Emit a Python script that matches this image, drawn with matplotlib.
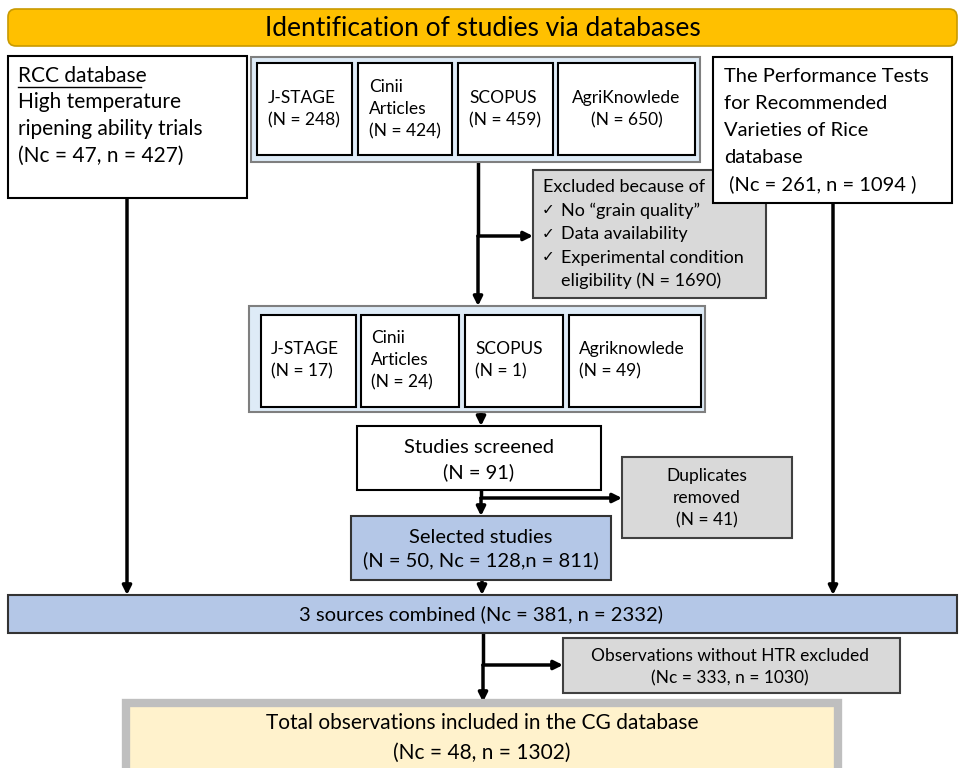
import matplotlib.pyplot as plt
from matplotlib.patches import Rectangle, FancyBboxPatch

plt.rcParams['font.family'] = ['Lato', 'DejaVu Sans']

# data
title = "Identification of studies via databases"
db_names_1 = ["J-STAGE", "Cinii\nArticles", "SCOPUS", "AgriKnowlede"]
db_counts_1 = [248, 424, 459, 650]
db_names_2 = ["J-STAGE", "Cinii\nArticles", "SCOPUS", "Agriknowlede"]
db_counts_2 = [17, 24, 1, 49]
rcc_nc, rcc_n = 47, 427
perf_nc, perf_n = 261, 1094
excluded_reasons = ["No \u201cgrain quality\u201d", "Data availability", "Experimental condition"]
excluded_n = 1690
screened_n = 91
duplicates_n = 41
selected = (50, 128, 811)
combined = (381, 2332)
no_htr = (333, 1030)
total = (48, 1302)

fig = plt.figure(figsize=(9.6, 7.68), dpi=100)
ax = fig.add_axes([0, 0, 1, 1])
ax.set_xlim(0, 960)
ax.set_ylim(768, 0)
ax.axis('off')

def box(x0, y0, x1, y1, fc='white', ec='black', lw=1.5, z=2):
    ax.add_patch(Rectangle((x0, y0), x1 - x0, y1 - y0, facecolor=fc, edgecolor=ec, lw=lw, zorder=z))

def arrow(x0, y0, x1, y1):
    ax.annotate('', xy=(x1, y1), xytext=(x0, y0),
                arrowprops=dict(arrowstyle='-|>', lw=2.5, color='black', mutation_scale=13,
                                shrinkA=0, shrinkB=0), zorder=1)

def line(x0, y0, x1, y1):
    ax.plot([x0, x1], [y0, y1], color='black', lw=2.5, zorder=1, solid_capstyle='butt')

# title bar
ax.add_patch(FancyBboxPatch((8, 9), 949, 37, boxstyle='round,pad=0,rounding_size=8',
                            facecolor='#FFC000', edgecolor='#C99A00', lw=1.2, zorder=2))
ax.text(483, 28, title, ha='center', va='center', fontsize=19, zorder=3)

# RCC box
box(8, 56, 247, 198)
rcc_lines = ["RCC database", "High temperature", "ripening ability trials",
             f"(Nc = {rcc_nc}, n = {rcc_n})"]
for i, t in enumerate(rcc_lines):
    ax.text(18, 76 + i * 26.5, t, ha='left', va='center', fontsize=15, zorder=3)
ax.plot([18, 141], [87, 87], color='black', lw=1, zorder=3)

# first database group
box(251, 57, 700, 162, fc='#DEEBF7', ec='#7F7F7F', lw=1.5)
xs1 = [(257, 352), (358, 452), (458, 553), (558, 695)]
for (x0, x1), name, n in zip(xs1, db_names_1, db_counts_1):
    box(x0, 63, x1, 155)
    if name == "AgriKnowlede":
        ax.text((x0 + x1) / 2, 109, f"{name}\n(N = {n})", ha='center', va='center',
                fontsize=12.5, linespacing=1.45, zorder=3)
    else:
        ax.text(x0 + 11, 109, f"{name}\n(N = {n})", ha='left', va='center',
                fontsize=12.5, linespacing=1.45, zorder=3)

# performance tests box
box(713, 57, 952, 203, z=4)
perf_lines = ["The Performance Tests", "for Recommended", "Varieties of Rice", "database",
              f" (Nc = {perf_nc}, n = {perf_n} )"]
for i, t in enumerate(perf_lines):
    ax.text(724, 77 + i * 26.8, t, ha='left', va='center', fontsize=14.5, zorder=5)

# excluded box
box(533, 170, 766, 298, fc='#D9D9D9', ec='#404040', z=3)
ax.text(543, 187, "Excluded because of", ha='left', va='center', fontsize=13, zorder=3.5)
for i, t in enumerate(excluded_reasons):
    ax.text(542, 210 + i * 23.5, "\u2713", ha='left', va='center', fontsize=11, zorder=3.5,
            family='DejaVu Sans')
    ax.text(561, 211 + i * 23.5, t, ha='left', va='center', fontsize=13, zorder=3.5)
ax.text(561, 281, f"eligibility (N = {excluded_n})", ha='left', va='center', fontsize=13, zorder=3.5)

line(478, 162, 478, 236)
arrow(478, 236, 478, 306)
arrow(478, 236, 533, 236)

# second database group
box(249, 306, 705, 412, fc='#DEEBF7', ec='#7F7F7F', lw=1.5)
xs2 = [(261, 356), (361, 459), (465, 563), (569, 701)]
for (x0, x1), name, n in zip(xs2, db_names_2, db_counts_2):
    box(x0, 315, x1, 407)
    ax.text(x0 + 10, 360, f"{name}\n(N = {n})", ha='left', va='center',
            fontsize=12.5, linespacing=1.45, zorder=3)

arrow(481, 412, 481, 426)

# studies screened
box(357, 426, 601, 490)
ax.text(479, 460, f"Studies screened\n(N = {screened_n})", ha='center', va='center',
        fontsize=14.5, linespacing=1.45, zorder=3)

line(481, 490, 481, 498)
arrow(481, 498, 481, 516)
arrow(481, 498, 622, 498)

# duplicates
box(622, 457, 792, 538, fc='#D9D9D9', ec='#404040')
ax.text(707, 498, f"Duplicates\nremoved\n(N = {duplicates_n})", ha='center', va='center',
        fontsize=12.5, linespacing=1.45, zorder=3)

# selected studies
box(351, 516, 611, 580, fc='#B4C7E7', ec='#333333')
ax.text(481, 549, f"Selected studies\n(N = {selected[0]}, Nc = {selected[1]},n = {selected[2]})",
        ha='center', va='center', fontsize=14.5, linespacing=1.4, zorder=3)

arrow(482, 580, 482, 595)
arrow(127, 198, 127, 595)
arrow(833, 203, 833, 595)

# combined
box(8, 595, 957, 633, fc='#B4C7E7', ec='#333333')
ax.text(481, 614, f"3 sources combined (Nc = {combined[0]}, n = {combined[1]})",
        ha='center', va='center', fontsize=14.5, zorder=3)

line(483, 633, 483, 665)
arrow(483, 665, 483, 702)
arrow(483, 665, 563, 665)

# observations without HTR
box(563, 638, 900, 693, fc='#D9D9D9', ec='#404040')
ax.text(730, 667, f"Observations without HTR excluded\n(Nc = {no_htr[0]}, n = {no_htr[1]})",
        ha='center', va='center', fontsize=12.5, linespacing=1.5, zorder=3)

# final box
box(126, 703, 838, 775, fc='#FFF2CC', ec='#BFBFBF', lw=6)
ax.text(482, 738, f"Total observations included in the CG database\n(Nc = {total[0]}, n = {total[1]})",
        ha='center', va='center', fontsize=15, linespacing=1.6, zorder=3)

fig.savefig('out.png', dpi=100)
